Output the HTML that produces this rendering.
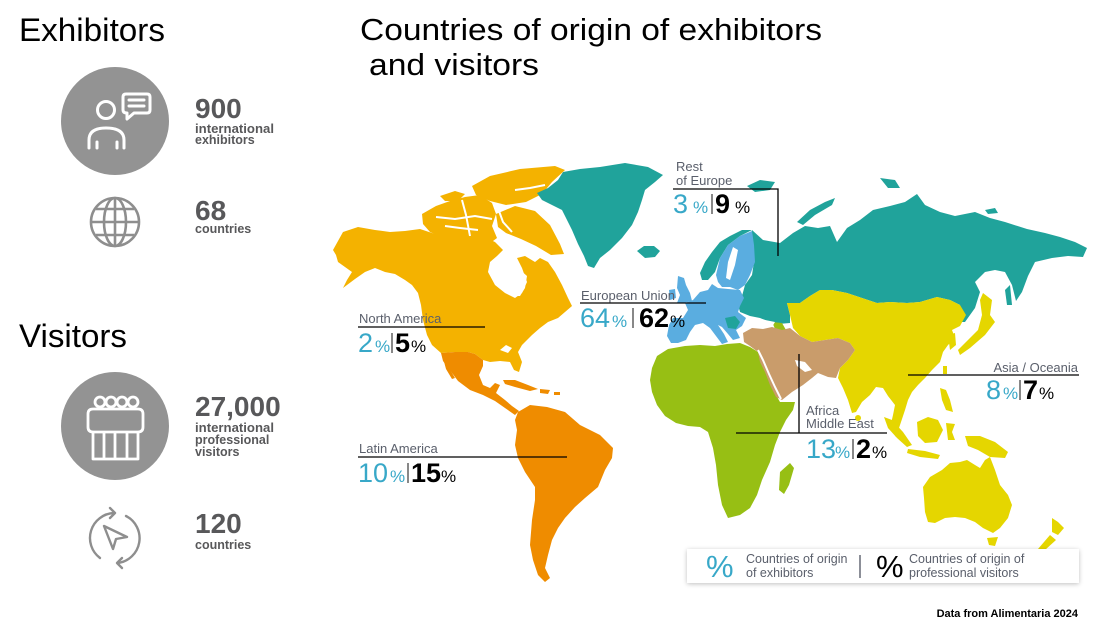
<!DOCTYPE html>
<html><head><meta charset="utf-8"><style>
html,body{margin:0;padding:0;background:#fff;width:1097px;height:629px;overflow:hidden}
svg{display:block}
text{font-family:"Liberation Sans",Arial,sans-serif}
</style></head><body>
<svg width="1097" height="629" viewBox="0 0 1097 629" xmlns="http://www.w3.org/2000/svg">
<defs>
<filter id="sh" x="-10%" y="-40%" width="120%" height="180%"><feGaussianBlur in="SourceAlpha" stdDeviation="2.5"/><feOffset dx="0" dy="1"/><feComponentTransfer><feFuncA type="linear" slope="0.25"/></feComponentTransfer><feMerge><feMergeNode/><feMergeNode in="SourceGraphic"/></feMerge></filter>
</defs>

<!-- LEFT PANEL -->
<text x="19" y="41" font-size="32" textLength="146" lengthAdjust="spacingAndGlyphs" fill="#000">Exhibitors</text>
<circle cx="115" cy="121" r="54" fill="#939393"/>
<g fill="none" stroke="#fff" stroke-width="3" stroke-linecap="round" stroke-linejoin="round">
<circle cx="106" cy="110" r="8.5"/>
<path d="M89,148 L89,140 Q89,128 106,128 Q124,128 124,140 L124,148"/>
<line x1="97" y1="142" x2="97" y2="148"/><line x1="117" y1="142" x2="117" y2="148"/>
<path d="M126,94 L147,94 Q150,94 150,97 L150,110 Q150,113 147,113 L134,113 L127,119 L127,113 Q123,113 123,110 L123,97 Q123,94 126,94 Z"/>
<line x1="129" y1="100" x2="144" y2="100"/><line x1="129" y1="106" x2="144" y2="106"/>
</g>
<text x="195" y="118" font-size="28" font-weight="bold" fill="#58585a">900</text>
<text x="195" y="133" font-size="12.5" font-weight="bold" fill="#58585a" textLength="79" lengthAdjust="spacingAndGlyphs">international</text>
<text x="195" y="144" font-size="12.5" font-weight="bold" fill="#58585a">exhibitors</text>

<g fill="none" stroke="#8e8e8e" stroke-width="2.6">
<circle cx="115" cy="222" r="24"/>
<ellipse cx="115" cy="222" rx="11" ry="24"/>
<line x1="115" y1="198" x2="115" y2="246"/>
<line x1="91" y1="222" x2="139" y2="222"/>
<line x1="96" y1="209" x2="134" y2="209"/>
<line x1="96" y1="235" x2="134" y2="235"/>
</g>
<text x="195" y="220" font-size="28" font-weight="bold" fill="#58585a">68</text>
<text x="195" y="233" font-size="12.5" font-weight="bold" fill="#58585a">countries</text>

<text x="19" y="347" font-size="32" textLength="108" lengthAdjust="spacingAndGlyphs" fill="#000">Visitors</text>
<circle cx="115" cy="426" r="54" fill="#939393"/>
<g fill="none" stroke="#fff" stroke-width="2.8" stroke-linejoin="round">
<circle cx="100" cy="402" r="5"/><circle cx="111" cy="402" r="5"/><circle cx="122" cy="402" r="5"/><circle cx="133" cy="402" r="5"/>
<path d="M93,409 L138,409 Q143,409 143,414 L143,427 Q143,432 138,432 L93,432 Q88,432 88,427 L88,414 Q88,409 93,409 Z"/>
<path d="M93,432 L93,459 L138,459 L138,432"/>
<line x1="104" y1="432" x2="104" y2="459"/><line x1="115" y1="432" x2="115" y2="459"/><line x1="127" y1="432" x2="127" y2="459"/>
</g>
<text x="195" y="416" font-size="28" font-weight="bold" fill="#58585a">27,000</text>
<text x="195" y="432" font-size="12.5" font-weight="bold" fill="#58585a" textLength="79" lengthAdjust="spacingAndGlyphs">international</text>
<text x="195" y="444" font-size="12.5" font-weight="bold" fill="#58585a">professional</text>
<text x="195" y="456" font-size="12.5" font-weight="bold" fill="#58585a">visitors</text>

<g fill="none" stroke="#8e8e8e" stroke-width="2.4" stroke-linecap="round" stroke-linejoin="round">
<path d="M100,558 A25,25 0 0 1 114,513"/>
<polyline points="110,508 115,513 110,518"/>
<path d="M126,516 A25,25 0 0 1 118,563"/>
<polyline points="122,558 117,563 122,568"/>
<polygon points="104,526 127,537 116,539 113,549"/>
</g>
<text x="195" y="533" font-size="28" font-weight="bold" fill="#58585a">120</text>
<text x="195" y="549" font-size="12.5" font-weight="bold" fill="#58585a">countries</text>

<!-- TITLE -->
<text x="360" y="40" font-size="30.5" textLength="462" lengthAdjust="spacingAndGlyphs" fill="#000">Countries of origin of exhibitors</text>
<text x="369" y="75" font-size="30.5" textLength="170" lengthAdjust="spacingAndGlyphs" fill="#000">and visitors</text>

<!-- MAP -->
<!-- North America -->
<g fill="#f4b200">
<path d="M333,250 L343,232 L358,227 L375,230 L390,232 L405,231 L420,229 L432,233 L445,236 L458,232 L470,237 L482,236 L495,242 L503,250 L497,256 L490,262 L488,272 L495,285 L505,293 L515,298 L522,293 L527,282 L522,268 L517,258 L525,256 L535,262 L540,258 L548,262 L555,272 L562,285 L568,298 L572,306 L565,312 L558,318 L548,322 L540,328 L532,335 L522,345 L518,352 L522,362 L519,372 L514,370 L510,362 L500,361 L490,362 L483,360 L475,354 L468,352 L455,352 L441,353 L432,345 L427,335 L423,320 L421,305 L418,293 L412,285 L405,280 L395,274 L385,272 L375,268 L365,272 L355,279 L343,288 L347,280 L352,272 L345,267 L338,262 L336,255 Z"/>
<path d="M472,186 L490,176 L520,169 L555,166 L565,170 L552,182 L542,194 L526,202 L506,205 L490,201 L476,195 Z"/>
<path d="M496,214 L515,206 L535,211 L550,225 L560,244 L564,254 L551,255 L536,246 L521,239 L506,233 L498,227 Z"/>
<path d="M422,214 L436,206 L450,201 L465,197 L480,195 L492,203 L496,214 L492,226 L497,238 L489,244 L474,240 L459,238 L444,238 L430,232 L423,224 Z"/>
<path d="M440,196 L455,191 L465,194 L458,201 L445,201 Z"/>
</g>
<g stroke="#fff" stroke-width="2" fill="none">
<polyline points="436,217 455,219 475,216 492,219"/>
<polyline points="462,200 466,215 470,236"/>
<polyline points="445,226 460,228 478,230"/>
<polyline points="499,211 503,222 512,232"/>
<polyline points="515,190 530,188 545,185"/>
</g>
<path d="M490,268 L500,263 L512,262 L518,268 L527,276 L525,288 L520,296 L512,296 L503,290 L494,282 Z" fill="#fff"/>
<path d="M500,350 L506,345 L512,348 L508,353 Z" fill="#fff"/>

<!-- Latin America -->
<g fill="#ef8c00">
<path d="M441,353 L455,352 L468,352 L475,354 L483,360 L483,366 L479,375 L483,385 L490,388 L495,383 L500,385 L496,393 L505,400 L512,406 L519,411 L515,415 L505,408 L495,401 L483,395 L470,390 L458,381 L449,369 L443,361 Z"/>
<path d="M443,358 L449,368 L455,378 L452,379 L446,369 Z"/>
<path d="M518,412 L530,405 L547,407 L565,412 L580,425 L600,435 L613,448 L612,458 L605,470 L598,487 L585,498 L575,507 L565,518 L558,528 L552,540 L548,555 L545,568 L550,578 L545,582 L538,575 L533,560 L530,545 L532,520 L535,500 L535,487 L525,472 L518,458 L515,445 L517,430 L515,420 Z"/>
<path d="M503,380 L515,380 L528,385 L538,389 L530,391 L515,387 L505,384 Z"/>
<path d="M540,389 L550,390 L548,394 L540,393 Z"/>
<path d="M554,392 L560,392 L560,395 L554,395 Z"/>
</g>

<!-- Teal: Greenland, Russia, Norway -->
<g fill="#20a39b">
<path d="M537,193 L548,188 L558,180 L563,172 L580,169 L600,167 L625,163 L648,167 L663,175 L655,182 L645,190 L642,200 L638,212 L632,225 L622,238 L610,250 L600,258 L594,268 L588,266 L584,256 L578,244 L572,230 L566,218 L562,210 L552,205 L542,200 Z"/>
<path d="M637,251 L644,246 L654,246 L660,251 L655,257 L645,258 Z"/>
<path d="M752,230 L763,240 L780,243 L793,233 L805,226 L818,228 L830,226 L837,242 L847,228 L860,220 L873,210 L890,206 L905,202 L917,194 L925,205 L940,212 L955,216 L975,212 L990,218 L1005,222 L1027,229 L1045,233 L1060,237 L1075,242 L1087,248 L1083,257 L1068,256 L1052,258 L1035,262 L1028,276 L1022,292 L1016,301 L1012,285 L1005,272 L995,270 L985,272 L975,282 L980,292 L975,308 L965,322 L958,322 L960,305 L950,300 L937,297 L920,302 L907,303 L890,302 L877,303 L862,298 L847,293 L832,290 L820,290 L810,296 L800,303 L787,303 L790,315 L790,323 L778,324 L770,322 L760,318 L750,316 L740,312 L738,305 L742,296 L745,285 L752,275 L754,262 L752,245 Z"/>
<path d="M700,273 L705,262 L712,252 L720,242 L730,236 L742,230 L752,230 L740,236 L728,245 L720,258 L715,272 L708,280 L702,280 Z"/>
<path d="M747,186 L760,180 L775,182 L770,190 L755,192 Z"/>
<path d="M880,178 L895,180 L900,188 L888,188 Z"/>
<path d="M797,222 L810,210 L825,202 L835,198 L832,205 L815,215 L803,225 Z"/>
<path d="M985,210 L995,208 L998,213 L988,214 Z"/>
<path d="M1005,290 L1010,285 L1012,305 L1007,305 Z"/>
</g>

<!-- EU -->
<g fill="#5aade0">
<path d="M716,275 L720,258 L728,245 L740,236 L752,231 L754,245 L755,262 L750,275 L745,285 L738,290 L730,287 L722,287 L718,282 Z"/>
<path d="M693,300 L700,292 L708,290 L712,284 L718,288 L728,289 L740,290 L744,298 L740,306 L738,312 L746,318 L742,326 L736,330 L740,338 L733,340 L728,334 L722,327 L718,325 L724,334 L728,342 L722,344 L716,336 L710,328 L703,323 L695,325 L690,332 L686,340 L678,343 L671,343 L667,336 L669,325 L673,318 L683,318 L688,310 L685,303 Z"/>
<path d="M678,276 L684,278 L686,285 L690,293 L692,301 L683,303 L677,303 L680,295 L677,288 Z"/>
<path d="M669,290 L675,289 L676,298 L670,300 Z"/>
</g>
<path d="M733,247 L738,250 L735,265 L730,280 L726,278 L728,262 Z" fill="#fff"/>
<path d="M725,318 L735,316 L740,322 L736,329 L728,328 Z" fill="#20a39b"/>

<!-- Africa -->
<g fill="#97bf14">
<path d="M652,368 L657,356 L668,349 L685,346 L700,345 L715,346 L727,344 L740,343 L750,347 L758,352 L762,362 L767,375 L772,388 L780,402 L795,402 L793,410 L786,420 L780,432 L775,445 L770,462 L762,480 L757,495 L750,508 L740,515 L728,518 L722,505 L718,485 L716,465 L713,448 L708,432 L700,427 L688,426 L676,423 L665,416 L657,405 L652,392 L650,380 Z"/>
<path d="M780,472 L790,463 L794,468 L789,485 L784,494 L779,490 Z"/>
<path d="M772,322 L782,323 L786,330 L776,331 Z"/>
</g>

<!-- Asia / Oceania -->
<g fill="#e5d600">
<path d="M787,303 L800,303 L810,296 L820,290 L832,290 L847,293 L862,298 L877,303 L890,302 L907,303 L920,302 L937,297 L950,300 L960,305 L966,315 L960,326 L952,330 L955,338 L948,345 L943,352 L940,362 L932,370 L925,378 L918,385 L912,392 L908,400 L905,410 L900,425 L896,437 L890,428 L893,415 L895,405 L888,396 L883,388 L876,387 L870,395 L862,402 L856,412 L852,413 L848,400 L843,388 L838,378 L840,368 L848,360 L855,350 L850,343 L838,338 L825,340 L812,342 L800,336 L793,328 L790,315 Z"/>
<path d="M948,335 L955,333 L956,345 L950,350 Z"/>
<circle cx="858" cy="418" r="3"/>
<path d="M983,293 L992,300 L990,315 L995,322 L985,335 L970,348 L960,355 L958,350 L968,340 L978,330 L982,315 L980,300 Z"/>
<path d="M943,366 L947,366 L947,374 L943,374 Z"/>
<path d="M940,388 L946,390 L950,400 L953,412 L946,410 L942,400 Z"/>
<path d="M884,417 L892,420 L903,432 L912,445 L907,447 L897,438 L888,428 Z"/>
<path d="M908,449 L925,451 L940,455 L938,459 L920,457 L907,453 Z"/>
<path d="M917,422 L928,417 L938,420 L943,430 L937,442 L925,443 L918,436 Z"/>
<path d="M946,423 L955,424 L952,432 L955,440 L948,440 Z"/>
<path d="M965,436 L980,436 L995,442 L1008,452 L1005,458 L990,457 L978,450 L968,446 Z"/>
<path d="M923,487 L930,477 L942,470 L950,463 L960,462 L967,460 L975,465 L980,468 L985,460 L990,457 L995,470 L1000,485 L1008,495 L1012,505 L1008,518 L1000,528 L993,533 L983,528 L975,522 L965,518 L955,517 L945,518 L935,523 L928,522 L925,512 L924,498 Z"/>
<path d="M987,538 L998,537 L995,546 L989,545 Z"/>
<path d="M1052,518 L1058,522 L1064,528 L1058,535 L1052,532 Z"/>
<path d="M1050,535 L1056,540 L1045,550 L1038,549 Z"/>
</g>

<!-- Middle East -->
<path d="M743,333 L752,328 L763,329 L772,327 L782,330 L790,328 L800,336 L812,342 L825,340 L838,338 L850,343 L855,350 L848,360 L840,368 L836,378 L828,377 L818,373 L812,378 L803,385 L792,392 L782,400 L776,397 L770,385 L765,372 L760,362 L758,352 L750,346 L744,342 Z" fill="#c99c6b"/>
<path d="M795,360 L805,362 L812,370 L805,372 L797,366 Z" fill="#fff"/>
<polyline points="758,350 763,360 769,374 775,387 781,399" fill="none" stroke="#fff" stroke-width="2"/>
<path d="M755,318 L775,322 L772,327 L758,326 Z" fill="#fff"/>

<!-- LABELS -->
<g stroke="#000" stroke-width="1.3" fill="none">
<polyline points="673,189 778,189 778,256"/>
<line x1="580" y1="303" x2="706" y2="303"/>
<line x1="358" y1="327" x2="485" y2="327"/>
<line x1="358" y1="457" x2="567" y2="457"/>
<line x1="908" y1="375" x2="1079" y2="375"/>
<line x1="799" y1="354" x2="799" y2="433"/>
<line x1="736" y1="433" x2="887" y2="433"/>
</g>
<g stroke="#555" stroke-width="1.4">
<line x1="712" y1="194" x2="712" y2="214"/>
<line x1="633" y1="308" x2="633" y2="328"/>
<line x1="392" y1="333" x2="392" y2="353"/>
<line x1="408" y1="463" x2="408" y2="483"/>
<line x1="1020" y1="380" x2="1020" y2="400"/>
<line x1="853" y1="439" x2="853" y2="459"/>
</g>
<g font-size="13" fill="#5a5f6b">
<text x="676" y="171">Rest</text>
<text x="676" y="185">of Europe</text>
<text x="581" y="300">European Union</text>
<text x="359" y="323">North America</text>
<text x="359" y="453">Latin America</text>
<text x="1078" y="372" text-anchor="end">Asia / Oceania</text>
<text x="806" y="415">Africa</text>
<text x="806" y="428">Middle East</text>
</g>
<g fill="#38a8c8">
<text x="673" y="213" font-size="27">3</text><text x="693" y="213" font-size="17">%</text>
<text x="580" y="327" font-size="27">64</text><text x="612" y="327" font-size="17">%</text>
<text x="358" y="352" font-size="27">2</text><text x="375" y="352" font-size="17">%</text>
<text x="358" y="482" font-size="27">10</text><text x="390" y="482" font-size="17">%</text>
<text x="986" y="399" font-size="27">8</text><text x="1003" y="399" font-size="17">%</text>
<text x="806" y="458" font-size="27">13</text><text x="835" y="458" font-size="17">%</text>
</g>
<g fill="#000">
<text x="715" y="213" font-size="27" font-weight="bold">9</text><text x="735" y="213" font-size="17">%</text>
<text x="639" y="327" font-size="27" font-weight="bold">62</text><text x="670" y="327" font-size="17">%</text>
<text x="395" y="352" font-size="27" font-weight="bold">5</text><text x="411" y="352" font-size="17">%</text>
<text x="411" y="482" font-size="27" font-weight="bold">15</text><text x="441" y="482" font-size="17">%</text>
<text x="1023" y="399" font-size="27" font-weight="bold">7</text><text x="1039" y="399" font-size="17">%</text>
<text x="856" y="458" font-size="27" font-weight="bold">2</text><text x="872" y="458" font-size="17">%</text>
</g>

<!-- LEGEND -->
<rect x="687" y="549" width="392" height="34" fill="#fff" filter="url(#sh)"/>
<text x="706" y="577" font-size="31" fill="#38a8c8">%</text>
<text x="746" y="563" font-size="12.5" fill="#5a5f6b">Countries of origin</text>
<text x="746" y="577" font-size="12.5" fill="#5a5f6b">of exhibitors</text>
<line x1="860" y1="555" x2="860" y2="578" stroke="#5a5f6b" stroke-width="1.4"/>
<text x="876" y="577" font-size="31" fill="#000">%</text>
<text x="909" y="563" font-size="12.5" fill="#5a5f6b">Countries of origin of</text>
<text x="909" y="577" font-size="12.5" fill="#5a5f6b">professional visitors</text>

<text x="1078" y="617" font-size="11" font-weight="bold" fill="#000" text-anchor="end">Data from Alimentaria 2024</text>
</svg>
</body></html>
